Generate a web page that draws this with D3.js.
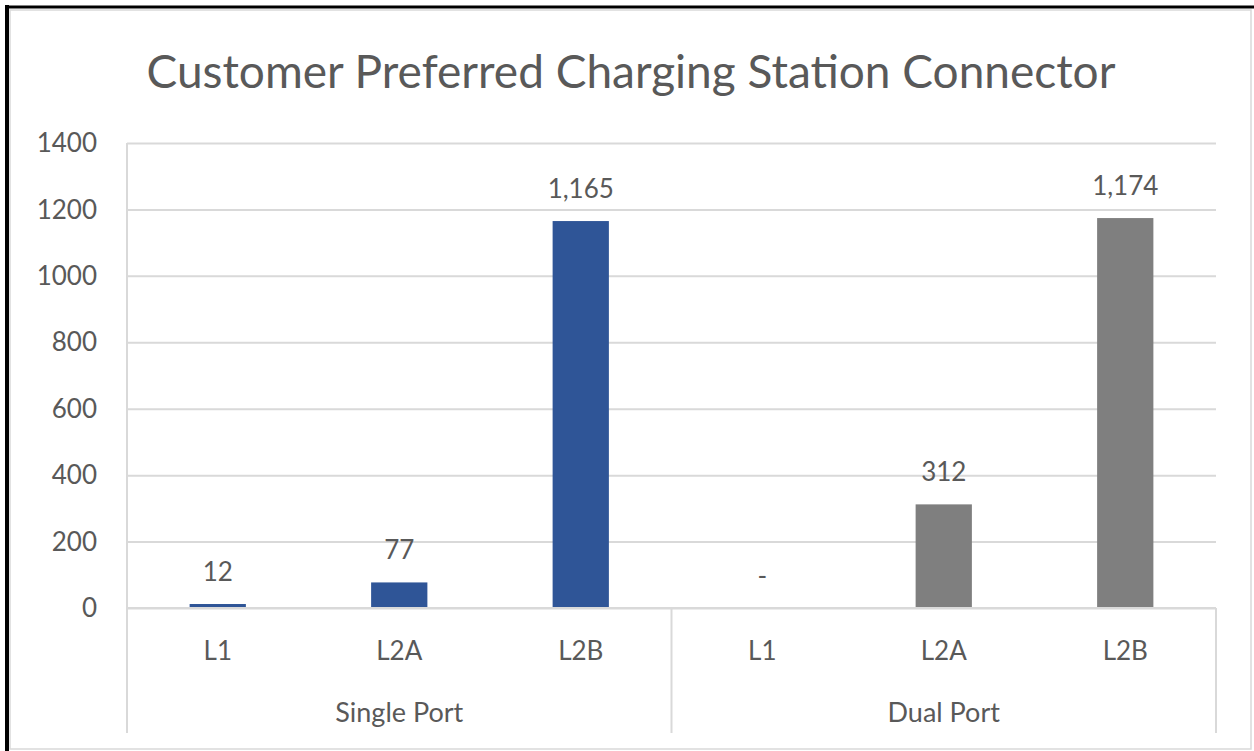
<!DOCTYPE html>
<html>
<head>
<meta charset="utf-8">
<script src="https://cdn.jsdelivr.net/npm/d3@7"></script>
<style>
  body { margin: 0; background: #fff; }
  text { font-family: Lato, "Open Sans", sans-serif; fill: #595959; }
</style>
</head>
<body>
<svg id="chart" width="1254" height="751"></svg>
<script>
const groups = ["Single Port", "Dual Port"];
const connectors = ["L1", "L2A", "L2B"];
const singlePort = [12, 77, 1165];
const dualPort = [0, 312, 1174];
const yTicks = [0, 200, 400, 600, 800, 1000, 1200, 1400];
const groupColors = ["#2F5597", "#7F7F7F"];

const rows = [];
groups.forEach((g, gi) => {
    const vals = gi === 0 ? singlePort : dualPort;
    connectors.forEach((c, ci) => rows.push({ key: g + "|" + c, group: g, gi, connector: c, value: vals[ci] }));
});

const svg = d3.select("#chart");
const margin = { top: 143, right: 38, bottom: 143, left: 127 };
const width = 1254 - margin.left - margin.right;
const height = 751 - margin.top - margin.bottom;

// frame
svg.append("rect").attr("x", 10).attr("y", 10).attr("width", 1241).attr("height", 739)
    .attr("fill", "#fff").attr("stroke", "#D9D9D9").attr("stroke-width", 1.5);
svg.append("line").attr("x1", 7).attr("x2", 7).attr("y1", 5).attr("y2", 751)
    .attr("stroke", "#000").attr("stroke-width", 4);
svg.append("line").attr("x1", 5).attr("x2", 1254).attr("y1", 7).attr("y2", 7)
    .attr("stroke", "#000").attr("stroke-width", 3);

svg.append("text")
    .attr("x", 631).attr("y", 88)
    .attr("text-anchor", "middle")
    .style("font-size", "46px")
    .text("Customer Preferred Charging Station Connector");

const g = svg.append("g").attr("transform", `translate(${margin.left},${margin.top})`);

const x = d3.scaleBand().domain(rows.map(d => d.key)).range([0, width]).paddingInner(0.69).paddingOuter(0.345);
const y = d3.scaleLinear().domain([0, 1400]).range([height, 0]);

// gridlines
g.append("g")
    .call(d3.axisLeft(y).tickValues(yTicks).tickSize(-width).tickFormat(""))
    .call(a => a.select(".domain").remove())
    .selectAll("line").attr("stroke", "#D9D9D9").attr("stroke-width", 2);

// y tick labels
g.append("g").selectAll("text").data(yTicks).join("text")
    .attr("x", -30).attr("y", d => y(d)).attr("dy", "0.35em")
    .attr("text-anchor", "end")
    .style("font-size", "26px")
    .text(d => d);

// bars
g.selectAll("rect.bar").data(rows).join("rect")
    .attr("class", "bar")
    .attr("x", d => x(d.key))
    .attr("width", x.bandwidth())
    .attr("y", d => y(d.value))
    .attr("height", d => height - y(d.value))
    .attr("fill", d => groupColors[d.gi]);

// value labels
g.selectAll("text.val").data(rows).join("text")
    .attr("class", "val")
    .attr("x", d => x(d.key) + x.bandwidth() / 2)
    .attr("y", d => y(d.value) - 23)
    .attr("text-anchor", "middle")
    .style("font-size", "26px")
    .text(d => d.value === 0 ? "-" : d3.format(",")(d.value));

// x axis line + group dividers
g.append("line").attr("x1", 0).attr("x2", width).attr("y1", height).attr("y2", height)
    .attr("stroke", "#D9D9D9").attr("stroke-width", 2);
const step = x.step();
const dividers = [0, 3 * step, 6 * step];
g.selectAll("line.div").data(dividers).join("line")
    .attr("class", "div")
    .attr("x1", d => d).attr("x2", d => d)
    .attr("y1", (d, i) => i === 0 ? 0 : height)
    .attr("y2", height + 125)
    .attr("stroke", "#D9D9D9").attr("stroke-width", 2);

// category labels
g.selectAll("text.cat").data(rows).join("text")
    .attr("class", "cat")
    .attr("x", d => x(d.key) + x.bandwidth() / 2)
    .attr("y", height + 52)
    .attr("text-anchor", "middle")
    .style("font-size", "26px")
    .text(d => d.connector);

// group labels
g.selectAll("text.grp").data(groups).join("text")
    .attr("class", "grp")
    .attr("x", (d, i) => (i * 3 + 1.5) * step)
    .attr("y", height + 114)
    .attr("text-anchor", "middle")
    .style("font-size", "27px")
    .text(d => d);
</script>
</body>
</html>
